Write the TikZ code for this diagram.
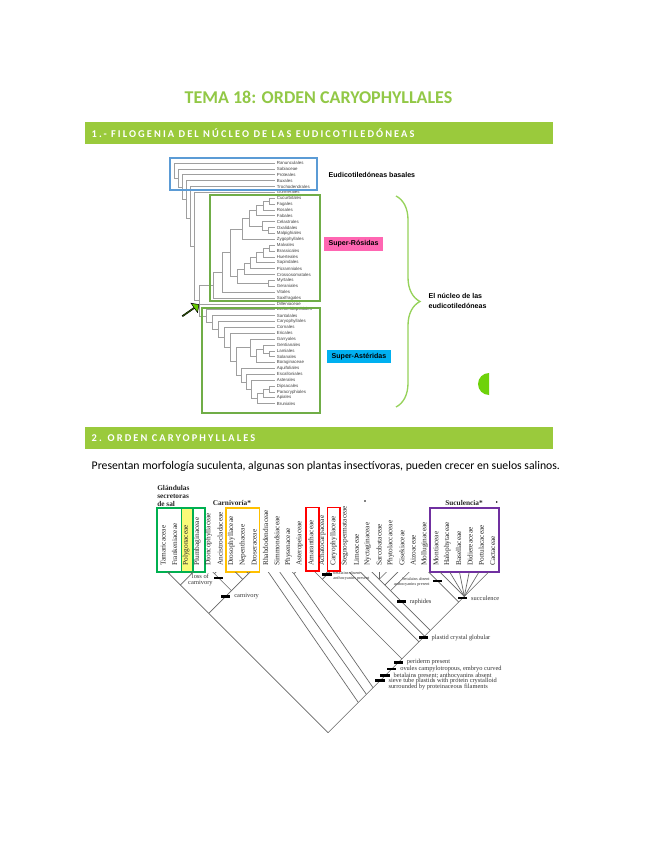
\documentclass[tikz,border=0pt]{standalone}
\usepackage{fontspec}
\setmainfont{Liberation Serif}
\newfontfamily\docfont{Carlito}
\newfontfamily\figfont{Liberation Sans}
\usetikzlibrary{positioning,calc,decorations.pathreplacing,shapes.arrows}
\definecolor{tTitle}{RGB}{146,200,70}
\definecolor{tBar}{RGB}{154,202,60}
\definecolor{tBlue}{RGB}{91,155,213}
\definecolor{tBox}{RGB}{112,173,71}
\definecolor{tBrace}{RGB}{150,210,90}
\definecolor{tPink}{RGB}{255,102,178}
\definecolor{tCyan}{RGB}{0,176,240}
\definecolor{tArrow}{RGB}{102,204,0}
\definecolor{tSalt}{RGB}{0,176,80}
\definecolor{tCarn}{RGB}{255,192,0}
\definecolor{tSucc}{RGB}{112,48,160}
\definecolor{tDot}{RGB}{110,210,10}
\definecolor{tYellow}{RGB}{250,250,120}

\newcommand\ly[1]{163+5.87*#1}
\newcommand\tx[1]{(163.3+11.36*(#1))}
\newcommand\cnode[3]{\coordinate (#1) at ({(\tx{#2}+\tx{#3})/2},{568+(\tx{#3}-\tx{#2})/2});}

\tikzset{
  secbar/.style={fill=tBar},
  bartext/.style={anchor=west, text=white, font=\docfont\bfseries\fontsize{7.8}{9}\selectfont\addfontfeature{LetterSpace=20}},
  leaf/.style={anchor=west, inner xsep=1.2pt, inner ysep=0.3pt, text=black!75, font=\figfont\fontsize{3.3}{3.6}\selectfont},
  branch/.style={draw=gray!75, line width=0.5pt},
  tagbox/.style={font=\figfont\bfseries\fontsize{5.3}{6.4}\selectfont, inner xsep=3.4pt, inner ysep=2.6pt},
  taxon/.style={rotate=90, anchor=west, inner sep=0pt, text=black!85, font=\fontsize{5.5}{6}\selectfont},
  clade/.style={draw=black!60, line width=0.5pt},
  trait/.style={fill=black, inner sep=0pt, minimum width=7pt, minimum height=2pt},
  traitnote/.style={font=\fontsize{4.8}{4.8}\selectfont, inner sep=0pt, align=left, text=black!80},
  smallnote/.style={font=\fontsize{3.2}{3.8}\selectfont, inner sep=0pt, align=left, text=black!80},
  grouptitle/.style={font=\bfseries\fontsize{5.5}{5.8}\selectfont, inner sep=0pt, text=black!85, align=left},
}

\begin{document}
\begin{tikzpicture}[x=0.75pt,y=-0.75pt]
\fill[white] (0,0) rectangle (655,848);
\useasboundingbox (0,0) rectangle (655,848);

\node[font=\docfont\bfseries\fontsize{13.5}{16}\selectfont, text=tTitle] (title) at (318.5,97.5) {TEMA 18: ORDEN CARYOPHYLLALES};

\fill[secbar] (85,122) rectangle (553,144);
\node[bartext] (sec1) at (87,133) {1.- FILOGENIA DEL NÚCLEO DE LAS EUDICOTILEDÓNEAS};

% phylogeny of the core eudicots
\foreach \name [count=\i from 0] in {Ranunculales,Sabiaceae,Proteales,Buxales,Trochodendrales,Gunnerales,Cucurbitales,Fagales,Rosales,Fabales,Celastrales,Oxalidales,Malpighiales,Zygophyllales,Malvales,Brassicales,Huerteales,Sapindales,Picramniales,Crossosomatales,Myrtales,Geraniales,Vitales,Saxifragales,Dilleniaceae,Berberidopsidales,Santalales,Caryophyllales,Cornales,Ericales,Garryales,Gentianales,Lamiales,Solanales,Boraginaceae,Aquifoliales,Escalloniales,Asterales,Dipsacales,Paracryphiales,Apiales,Bruniales}
  \node[leaf] (L\i) at (275,{\ly{\i}}) {\name};

\coordinate (a1) at (269,{\ly{6.5}});
\coordinate (a2) at (263,{\ly{7.25}});
\coordinate (a3) at (256,{\ly{8.13}});
\coordinate (a4) at (268,{\ly{11.5}});
\coordinate (a5) at (262,{\ly{10.75}});
\coordinate (a6) at (249,{\ly{9.44}});
\coordinate (a7) at (242,{\ly{11.22}});
\coordinate (b1) at (269,{\ly{14.5}});
\coordinate (b2) at (263,{\ly{15.25}});
\coordinate (b3) at (256,{\ly{16.13}});
\coordinate (b4) at (250,{\ly{17.06}});
\coordinate (b5) at (244,{\ly{18.03}});
\coordinate (b6) at (268,{\ly{20.5}});
\coordinate (b7) at (237,{\ly{19.27}});
\coordinate (r1) at (230,{\ly{15.24}});
\coordinate (r2) at (222,{\ly{18.62}});
\coordinate (sr) at (213,{\ly{20.81}});
\coordinate (c1) at (269,{\ly{32.5}});
\coordinate (c2) at (263,{\ly{31.75}});
\coordinate (c3) at (256,{\ly{32.88}});
\coordinate (c4) at (250,{\ly{31.44}});
\coordinate (d1) at (269,{\ly{38.5}});
\coordinate (d2) at (263,{\ly{39.25}});
\coordinate (d3) at (257,{\ly{40.12}});
\coordinate (d4) at (251,{\ly{38.56}});
\coordinate (d5) at (246,{\ly{37.28}});
\coordinate (d6) at (241,{\ly{36.14}});
\coordinate (e1) at (236,{\ly{33.79}});
\coordinate (e2) at (230,{\ly{31.4}});
\coordinate (e3) at (224,{\ly{29.7}});
\coordinate (e4) at (218,{\ly{28.35}});
\coordinate (e5) at (212,{\ly{27.18}});
\coordinate (sa) at (206,{\ly{26.09}});
\coordinate (pp) at (199,{\ly{23.45}});
\coordinate (ce) at (194,{\ly{14.2}});
\coordinate (n4) at (190,{\ly{9.35}});
\coordinate (n3) at (186,{\ly{6.2}});
\coordinate (n2) at (182,{\ly{4.1}});
\coordinate (n1) at (178,{\ly{2.55}});
\coordinate (n0) at (174,{\ly{1.28}});

\foreach \p/\c in {n0/L0,n0/n1,n1/L1,n1/n2,n2/L2,n2/n3,n3/L3,n3/n4,n4/L4,n4/ce,ce/L5,ce/pp,
  pp/sr,pp/L24,pp/sa,sr/r2,sr/L23,r2/r1,r2/L22,r1/a7,r1/b7,a7/a6,a7/L13,a6/a3,a6/a5,
  a3/L9,a3/a2,a2/L8,a2/a1,a1/L6,a1/L7,a5/L10,a5/a4,a4/L11,a4/L12,b7/b5,b7/b6,b5/b4,b5/L19,
  b4/b3,b4/L18,b3/b2,b3/L17,b2/b1,b2/L16,b1/L14,b1/L15,b6/L20,b6/L21,
  sa/L25,sa/e5,e5/L26,e5/e4,e4/L27,e4/e3,e3/L28,e3/e2,e2/L29,e2/e1,e1/c4,e1/d6,
  c4/L30,c4/c3,c3/c2,c3/L34,c2/L31,c2/c1,c1/L32,c1/L33,
  d6/L35,d6/d5,d5/L36,d5/d4,d4/L37,d4/d3,d3/d2,d3/L41,d2/d1,d2/L40,d1/L38,d1/L39}
  \draw[branch] (\p) |- (\c);

\draw[tBlue, line width=0.8pt] (170,158) rectangle (317,190);
\draw[tBox, line width=0.8pt] (210,195) rectangle (320,301);
\draw[tBox, line width=0.8pt] (202,308) rectangle (320,413);
\node[single arrow, draw=black, fill=tArrow, line width=0.4pt, minimum height=15pt, minimum width=8.5pt, single arrow head extend=1.8pt, inner sep=0pt, rotate=35] (pointer) at (190.5,310.5) {};

\node[anchor=west, font=\figfont\bfseries\fontsize{5.3}{6.4}\selectfont] (basal) at (324,175) {Eudicotiledóneas basales};
\node[tagbox, fill=tPink] (rosids) at (353.5,244) {Super-Rósidas};
\node[tagbox, fill=tCyan] (asterids) at (359,356.5) {Super-Astéridas};
\draw[tBrace, line width=1pt, decorate, decoration={brace, amplitude=18pt}] (396,196) -- (396,407);
\node[anchor=west, align=left, font=\figfont\bfseries\fontsize{5.3}{8}\selectfont] (core) at (424,301) {El núcleo de las\\eudicotiledóneas};
\fill[tDot] (489,395) arc[start angle=90, end angle=270, radius=11] -- cycle;

\fill[secbar] (85,427) rectangle (553,449);
\node[bartext] (sec2) at (87,438) {2. ORDEN CARYOPHYLLALES};
\node[anchor=base west, font=\docfont\fontsize{8.8}{10}\selectfont] (intro) at (87,469) {Presentan morfología suculenta, algunas son plantas insectívoras, pueden crecer en suelos salinos.};

% cladogram of Caryophyllales
\draw[tSalt, line width=1.1pt] (157,508) rectangle (205,572);
\filldraw[fill=tYellow, draw=tSalt, line width=1.1pt] (181.5,508) rectangle (193,572);
\draw[tCarn, line width=1.1pt] (226,508) rectangle (259.3,572);
\draw[red, line width=1.1pt] (306,507.5) rectangle (319,571);
\draw[red, line width=1.1pt] (327.7,507.5) rectangle (340,571);
\draw[tSucc, line width=1.1pt] (430,508) rectangle (499,572);

\foreach \name [count=\n from 0] in {Tamaricaceae,Frankeniaceae,Polygonaceae,Plumbaginaceae,Dioncophyllaceae,Ancistrocladaceae,Drosophyllaceae,Nepenthaceae,Droseraceae,Rhabdodendraceae,Simmondsiaceae,Physenaceae,Asteropeiaceae,Amaranthaceae,Achatocarpaceae,Caryophyllaceae,Stegnospermataceae,Limeaceae,Nyctaginaceae,Sarcobataceae,Phytolaccaceae,Gisekiaceae,Aizoaceae,Molluginaceae,Montiaceae,Halophytaceae,Basellaceae,Didiereaceae,Portulacaceae,Cactaceae}
{
  \node[taxon] (F\n) at ({\tx{\n}},566) {\name};
  \coordinate (t\n) at ({\tx{\n}},568);
}

\node[grouptitle, anchor=north west] (salt) at (157,485.5) {Glándulas\\secretoras\\de sal};
\node[grouptitle, anchor=base west] (carn) at (212.5,505) {Carnivoría*};
\node[grouptitle, anchor=base west] (succ) at (445,505) {Suculencia*};
\fill (365,501) circle[radius=0.9];
\fill (496.7,502) circle[radius=0.9];

\cnode{k01}{0}{1}
\cnode{k23}{2}{3}
\cnode{k03}{0}{3}
\cnode{k45}{4}{5}
\cnode{k78}{7}{8}
\cnode{k68}{6}{8}
\cnode{k48}{4}{8}
\cnode{k08}{0}{8}
\cnode{k1112}{11}{12}
\cnode{k1415}{14}{15}
\cnode{k1315}{13}{15}
\cnode{k1820}{18}{20}
\cnode{k1821}{18}{21}
\cnode{k1822}{18}{22}
\cnode{k2429}{24}{29}
\cnode{k2329}{23}{29}
\cnode{k1829}{18}{29}
\cnode{k1729}{17}{29}
\cnode{k1629}{16}{29}
\cnode{k1329}{13}{29}
\cnode{root}{0}{29}
\coordinate (j11) at ($(k1329)!.39!(root)$);
\coordinate (j10) at ($(k1329)!.48!(root)$);
\coordinate (j9) at ($(k1329)!.59!(root)$);

\begin{scope}
\clip (140,572) rectangle (520,745);
\foreach \a/\b in {t0/k01,t1/k01,t2/k23,t3/k23,k01/k03,k23/k03,t4/k45,t5/k45,t7/k78,t8/k78,
  t6/k68,k78/k68,k45/k48,k68/k48,k03/k08,k48/k08,k08/root,
  t9/j9,t10/j10,t11/k1112,t12/k1112,k1112/j11,k1329/j11,j11/j10,j10/j9,j9/root,
  t14/k1415,t15/k1415,t13/k1315,k1415/k1315,k1315/k1329,t16/k1629,k1629/k1329,
  t17/k1729,k1729/k1629,k1822/k1829,k1829/k1729,t18/k1820,t19/k1820,t20/k1820,
  k1820/k1821,t21/k1821,k1821/k1822,t22/k1822,k2329/k1829,t23/k2329,k2429/k2329,
  t24/k2429,t25/k2429,t26/k2429,t27/k2429,t28/k2429,t29/k2429}
  \draw[clade] (\a) -- (\b);
\end{scope}

\node[trait] (mLoss) at ($(k45)!.25!(k48)$) {};
\node[trait] (mCarn) at ($(k48)!.25!(k08)$) {};
\node[trait] (mBet1) at ($(t15)!1.2!(k1415)$) {};
\node[trait] (mRaph) at ($(k1822)!.27!(k1829)$) {};
\node[trait] (mBet2) at ($(t23)!.38!(k2329)$) {};
\node[trait] (mSucc) at ($(k2429)!.3!(k2329)$) {};
\node[trait] (mPlast) at ($(k1729)!.25!(k1629)$) {};
\node[trait] (mPeri) at ($(k1329)!.12!(j11)$) {};
\node[trait] (mOvul) at ($(k1329)!.35!(j11)$) {};
\node[trait] (mBet3) at ($(k1329)!.58!(j11)$) {};
\node[trait] (mSieve) at ($(k1329)!.76!(j11)$) {};

\node[traitnote, align=center, left=0.6pt of mLoss, yshift=-1.5pt] (nLoss) {loss of\\carnivory};
\node[traitnote, right=2.5pt of mCarn] (nCarn) {carnivory};
\node[smallnote, right=1pt of mBet1, yshift=-1.2pt] (nBet1) {betalains absent\\anthocyanins present};
\node[traitnote, right=2.5pt of mRaph] (nRaph) {raphides};
\node[smallnote, align=right, left=2pt of mBet2, yshift=-0.8pt] (nBet2) {betalains absent\\anthocyanins present};
\node[traitnote, right=2.5pt of mSucc] (nSucc) {succulence};
\node[traitnote, right=2.5pt of mPlast] (nPlast) {plastid crystal globular};
\node[traitnote, right=2.5pt of mPeri] (nPeri) {periderm present};
\node[traitnote, right=2.5pt of mOvul] (nOvul) {ovules campylotropous, embryo curved};
\node[traitnote, right=2.5pt of mBet3] (nBet3) {betalains present; anthocyanins absent};
\node[traitnote, right=2.5pt of mSieve, yshift=-2.2pt] (nSieve) {sieve tube plastids with protein crystalloid\\surrounded by proteinaceous filaments};
\end{tikzpicture}
\end{document}
